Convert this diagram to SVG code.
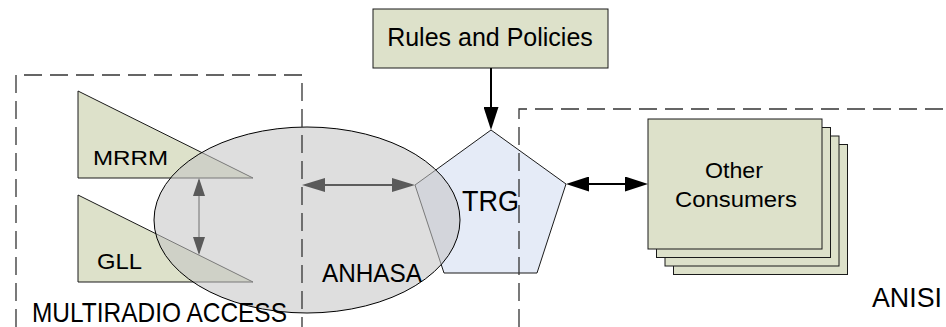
<svg xmlns="http://www.w3.org/2000/svg" width="946" height="327" viewBox="0 0 946 327">
  <style>
    .lbl { font-family: "Liberation Sans", Arial, sans-serif; fill: #000; }
    .green { fill: #dde1ca; stroke: #1a1a1a; stroke-width: 1; }
    .region { fill: none; stroke: #333; stroke-width: 1.3; stroke-dasharray: 18 8; }
    .link-dark { fill: none; stroke: #000; stroke-width: 2; }
    .link-gray { fill: none; stroke: #999; stroke-width: 1.6; }
    .link-mid { fill: none; stroke: #5c5c5c; stroke-width: 2; }
  </style>
  <defs>
    <marker id="headDark" viewBox="0 0 23 15" markerWidth="23" markerHeight="15" refX="20" refY="7.5" markerUnits="userSpaceOnUse" orient="auto-start-reverse">
      <path d="M0,0 L23,7.5 L0,15 z" fill="#000"/>
    </marker>
    <marker id="headGray" viewBox="0 0 18 12" markerWidth="18" markerHeight="12" refX="16" refY="6" markerUnits="userSpaceOnUse" orient="auto-start-reverse">
      <path d="M0,0 L18,6 L0,12 z" fill="#5a5a5a"/>
    </marker>
    <marker id="headMid" viewBox="0 0 23 14" markerWidth="23" markerHeight="14" refX="20" refY="7" markerUnits="userSpaceOnUse" orient="auto-start-reverse">
      <path d="M0,0 L23,7 L0,14 z" fill="#5a5a5a"/>
    </marker>
  </defs>

  <rect width="946" height="327" fill="#fff"/>

  <!-- radio resource managers -->
  <g id="mrrm">
    <polygon class="green" points="78,91 253,178 78,178"/>
    <text class="lbl" x="93" y="165" font-size="21" textLength="75" lengthAdjust="spacingAndGlyphs">MRRM</text>
  </g>
  <g id="gll">
    <polygon class="green" points="78,195 253,282 78,282"/>
    <text class="lbl" x="97" y="269" font-size="22" textLength="45" lengthAdjust="spacingAndGlyphs">GLL</text>
  </g>

  <!-- policy source -->
  <g id="rules">
    <rect class="green" x="373" y="9" width="235" height="59"/>
    <text class="lbl" x="490" y="46" font-size="25" text-anchor="middle">Rules and Policies</text>
  </g>

  <!-- gateway -->
  <g id="trg">
    <polygon points="491,130 566,184 537,273 444,273 415,185" fill="#e5ebf7" stroke="#1a1a1a" stroke-width="1"/>
    <text class="lbl" x="462" y="211" font-size="29" textLength="57" lengthAdjust="spacingAndGlyphs">TRG</text>
  </g>

  <!-- access handover agent, translucent over its neighbours -->
  <g id="anhasa">
    <ellipse cx="307" cy="220" rx="153" ry="93" fill="#c4c4c4" fill-opacity="0.56" stroke="#000" stroke-width="1"/>
    <text class="lbl" x="322" y="282" font-size="26" textLength="100" lengthAdjust="spacingAndGlyphs">ANHASA</text>
  </g>

  <!-- stacked consumers -->
  <g id="consumers">
    <rect class="green" x="673.5" y="144.5" width="174" height="130"/>
    <rect class="green" x="665" y="136" width="174" height="130"/>
    <rect class="green" x="656.5" y="127.5" width="174" height="130"/>
    <rect class="green" x="648" y="119" width="174" height="130"/>
    <text class="lbl" x="734" y="178" font-size="22" text-anchor="middle" textLength="58" lengthAdjust="spacingAndGlyphs">Other</text>
    <text class="lbl" x="736" y="207" font-size="22" text-anchor="middle" textLength="122" lengthAdjust="spacingAndGlyphs">Consumers</text>
  </g>

  <!-- domain boundaries -->
  <g id="multiradio-access">
    <path class="region" d="M16,327 V75 H302 V327"/>
    <text class="lbl" x="32" y="322" font-size="28" textLength="255" lengthAdjust="spacingAndGlyphs">MULTIRADIO ACCESS</text>
  </g>
  <g id="anisi">
    <path class="region" d="M519,327 V109 H946"/>
    <text class="lbl" x="872" y="307" font-size="27" textLength="70" lengthAdjust="spacingAndGlyphs">ANISI</text>
  </g>

  <g id="connectors">
    <line class="link-gray" x1="199" y1="180" x2="199" y2="253" marker-start="url(#headGray)" marker-end="url(#headGray)"/>
    <line class="link-mid" x1="305" y1="185" x2="412" y2="185" marker-start="url(#headMid)" marker-end="url(#headMid)"/>
    <line class="link-dark" x1="491" y1="68" x2="491" y2="127" marker-end="url(#headDark)"/>
    <line class="link-dark" x1="569" y1="184" x2="645" y2="184" marker-start="url(#headDark)" marker-end="url(#headDark)"/>
  </g>
</svg>
